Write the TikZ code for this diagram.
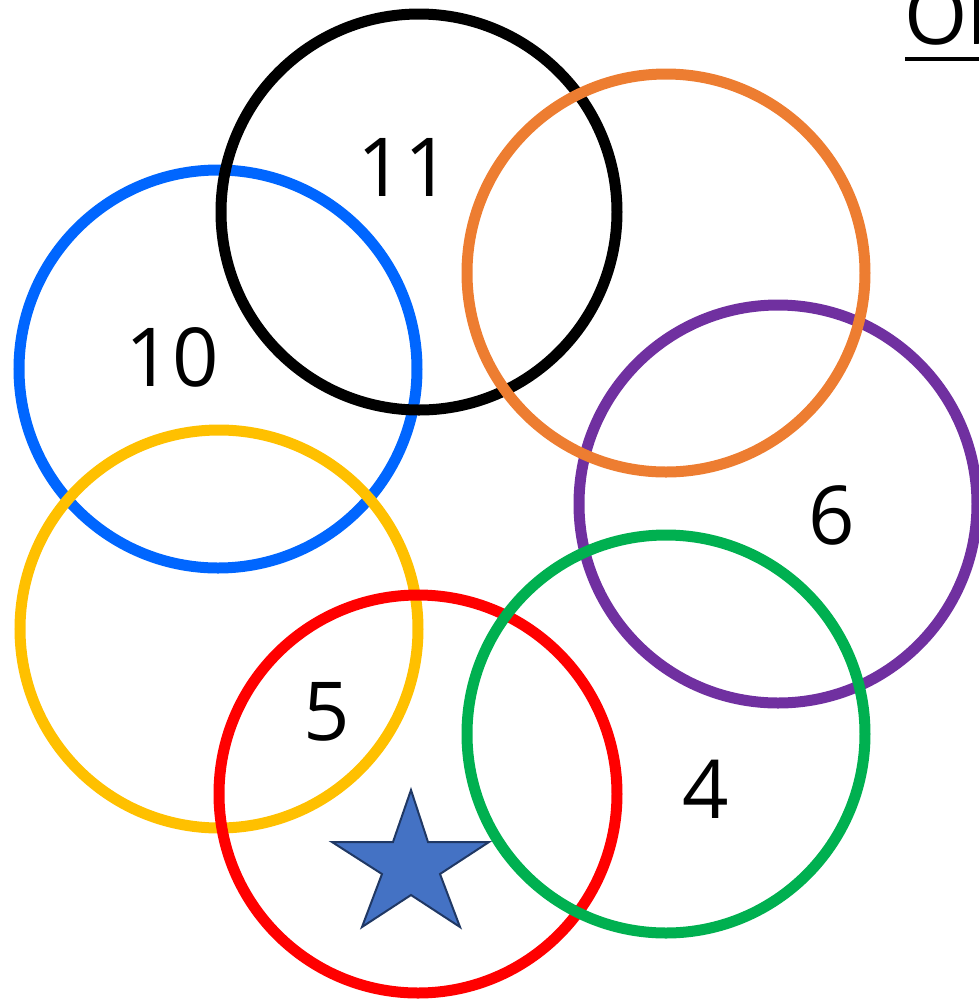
\documentclass[tikz,border=0pt]{standalone}
\usepackage{fontspec}
\setmainfont{Open Sans}
\usetikzlibrary{positioning}
\definecolor{ringblue}{HTML}{0066FF}
\definecolor{ringorange}{HTML}{ED7D31}
\definecolor{ringpurple}{HTML}{7030A0}
\definecolor{ringyellow}{HTML}{FFC000}
\definecolor{ringgreen}{HTML}{00B050}
\definecolor{ringred}{HTML}{FF0000}
\definecolor{starfill}{HTML}{4472C4}
\definecolor{starline}{HTML}{203864}
\tikzset{
  ring/.style={line width=8.25pt},
  num/.style={inner sep=0pt,font=\fontsize{61}{70}\selectfont}
}
\begin{document}
\begin{tikzpicture}[x=.75pt,y=-.75pt]
\useasboundingbox (0,0) rectangle (979,1001);
% rings, back to front
\draw[ring,ringblue] (218,369) circle (199);
\draw[ring,black] (419,212) circle (198);
\draw[ring,ringyellow] (219,629) circle (199);
\draw[ring,ringpurple] (778,504) circle (199);
\draw[ring,ringorange] (666,273) circle (199);
\draw[ring,ringred] (418,794) circle (199);
\draw[ring,ringgreen] (666,734) circle (199);
% numbers
\node[num] (n11) at (404,167) {11};
\node[num] (n10) at (172,357) {10};
\node[num] (n6) at (832,515) {6};
\node[num] (n5) at (327,712) {5};
\node[num] (n4) at (706,789) {4};
% star
\draw[fill=starfill,draw=starline,line width=1.5pt,line join=miter]
  (411,790) -- (428,842) -- (489,842) -- (440,874) -- (460,927)
  -- (411,895) -- (362,927) -- (382,874) -- (332,842) -- (393,842) -- cycle;
% title, cut off at the edge
\node[num,anchor=base west] (title) at (904,44) {Ob};
\draw[line width=3pt] (905,59) -- (990,59);
\end{tikzpicture}
\end{document}
